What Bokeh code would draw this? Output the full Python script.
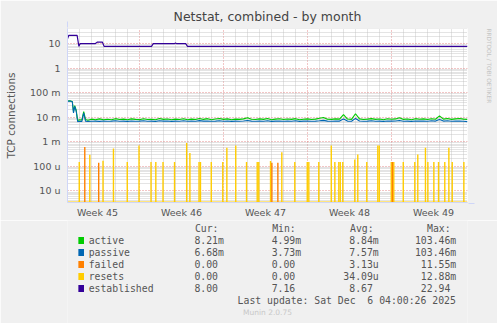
import numpy as np
from bokeh.plotting import figure
from bokeh.layouts import column
from bokeh.models import (Range1d, FixedTicker, CustomJSTickFormatter, Title,
                          Arrow, NormalHead)
from bokeh.core.properties import value
from bokeh.embed import file_html
from bokeh.resources import INLINE

# ---------------- data ----------------
# time axis in days from the left edge of the graph
WEEK_LABEL_DAYS = [2.5, 9.5, 16.5, 23.5, 30.5]
WEEK_LABELS = ["Week 45", "Week 46", "Week 47", "Week 48", "Week 49"]
WEEK_START_DAYS = [6, 13, 20, 27]
X_END = 33.333

Y_TICKS = [1e-5, 1e-4, 1e-3, 1e-2, 1e-1, 1, 10]
Y_LABELS = ["10 u", "100 u", "1 m", "10 m", "100 m", "1", "10"]

# active / passive (values in milli-connections)
START_DAYS = [0, 0.2, 0.4, 0.5, 0.6, 0.72, 0.85, 1.0, 1.2, 1.35, 1.5, 1.7]
ACTIVE_START = [46, 47, 44, 17, 30, 20, 7.4, 8.0, 7.8, 17, 8.2, 7.6]
PASSIVE_START = [45, 46, 43, 15, 28, 18, 6.6, 6.9, 6.8, 15, 7.0, 6.8]
REST_DAYS = list(2.0 + np.arange(95) / 3.0)
ACTIVE_REST = [
    8.4, 8.0, 8.6, 7.9, 8.3, 8.0, 8.8, 8.1, 8.4, 7.9,
    8.6, 8.2, 8.0, 8.7, 8.1, 8.3, 8.0, 8.9, 8.2, 8.5,
    7.9, 8.4, 8.1, 8.7, 8.0, 8.4, 8.1, 9.0, 8.2, 8.8,
    8.0, 8.5, 8.9, 8.2, 8.6, 8.0, 8.4, 8.2, 8.6, 9.5,
    8.3, 8.1, 8.6, 8.2, 8.9, 8.0, 8.4, 8.7, 8.1, 8.5,
    8.2, 8.8, 8.0, 8.3, 8.6, 8.1, 8.4, 9.1, 9.8, 8.3,
    8.2, 8.6, 8.4, 12.8, 8.5, 8.2, 14.0, 8.6, 8.1, 8.4,
    8.8, 8.2, 8.5, 8.0, 8.7, 8.3, 8.6, 9.6, 8.2, 8.5,
    8.0, 8.8, 8.3, 8.6, 8.1, 8.7, 8.3, 11.4, 8.4, 8.9,
    8.2, 8.6, 8.9, 8.4, 8.21]
PASSIVE_REST = [
    6.9, 7.0, 6.8, 7.1, 6.9, 7.0, 7.2, 6.9, 7.0, 6.8,
    7.1, 6.9, 7.0, 7.2, 6.9, 7.0, 6.8, 7.2, 7.0, 7.1,
    6.8, 7.0, 6.9, 7.2, 6.9, 7.0, 6.9, 7.3, 7.0, 7.1,
    6.9, 7.0, 7.2, 6.9, 7.1, 6.8, 7.0, 6.9, 7.1, 7.4,
    7.0, 6.9, 7.1, 6.9, 7.2, 6.8, 7.0, 7.1, 6.9, 7.0,
    6.9, 7.2, 6.8, 7.0, 7.1, 6.9, 7.0, 7.2, 7.5, 7.0,
    6.9, 7.1, 7.0, 8.5, 7.0, 6.9, 9.0, 7.1, 6.9, 7.0,
    7.2, 6.9, 7.0, 6.8, 7.1, 7.0, 7.1, 7.4, 6.9, 7.0,
    6.8, 7.1, 7.0, 7.1, 6.9, 7.2, 7.0, 8.2, 7.0, 7.2,
    6.9, 7.0, 7.1, 6.9, 6.68]

# established connections
EST_DAYS = [0, 0.1, 0.8, 0.95, 1.05, 2.3, 2.5, 2.9, 3.05, 7.0, 7.15, 8.9, 9.0, 9.1,
            9.85, 10.0, 33.333]
EST_VALUES = [16, 21.7, 21.7, 7.8, 10.0, 10.0, 11.7, 11.7, 7.8, 7.8, 10.0, 10.0, 10.6,
              10.0, 10.0, 7.8, 7.8]

# resets spikes (micro) and failed spikes (micro)
RESET_DAYS = [0.98, 1.86, 2.96, 3.83, 4.98, 5.96, 6.96, 7.36, 7.96, 8.92, 9.93, 10.2,
              10.96, 11.08, 11.98, 12.94, 13.28, 14.02, 14.92, 15.81, 15.94, 16.92,
              17.86, 18.94, 19.98, 20.11, 20.94, 21.98, 22.28, 22.61, 22.73, 22.94,
              23.94, 24.19, 24.94, 25.86, 25.98, 26.98, 27.19, 27.98, 28.94, 29.19,
              29.83, 30.03, 30.53, 30.92, 31.44, 31.78, 32.06, 33.03]
RESET_VALUES = [150, 300, 170, 530, 150, 700, 150, 150, 150, 150, 900, 350,
                150, 150, 150, 150, 570, 700, 150, 150, 150, 165,
                380, 150, 150, 150, 150, 700, 150, 150, 150, 150,
                190, 306, 150, 700, 700, 150, 150, 150, 150, 306,
                570, 150, 150, 150, 150, 570, 150, 150]
FAILED_DAYS = [1.44, 2.6, 17.03, 17.53, 27.08]
FAILED_VALUES = [620, 140, 140, 140, 150]

NB = "\u00a0"
NAMES = ["active", "passive", "failed", "resets", "established"]
COLORS = ["#00CC00", "#0066B3", "#FF8000", "#FFCC00", "#330099"]
CUR = ["8.21m", "6.68m", "0.00" + NB, "0.00" + NB, "8.00" + NB]
MIN = ["4.99m", "3.73m", "0.00" + NB, "0.00" + NB, "7.16" + NB]
AVG = ["8.84m", "7.57m", "3.13u", "34.09u", "8.67" + NB]
MAX = ["103.46m", "103.46m", "11.55m", "12.88m", "22.94" + NB]
HEADERS = ["Cur:", "Min:", "Avg:", "Max:"]
LAST_UPDATE = "Last update: Sat Dec " + NB + "6 04:00:26 2025"

# ---------------- figure ----------------
W, H_TOP, H_BOT = 497, 220, 103
Y_MIN, Y_MAX = 3.36e-6, 41.7
TXT = "#555555"
BG = "#F0F0F0"
AXC = "#CFD6F8"
SANS = "DejaVu Sans"
MONO = "DejaVu Sans Mono"

p = figure(width=W, height=H_TOP, y_axis_type="log", output_backend="svg",
           toolbar_location=None, x_range=Range1d(0, X_END),
           y_range=Range1d(Y_MIN, Y_MAX),
           min_border_left=67, min_border_right=30, min_border_top=28,
           min_border_bottom=17)
p.border_fill_color = BG
p.background_fill_color = "#FFFFFF"
p.outline_line_color = None

p.title.text = "Netstat, combined - by month"
p.title.align = "center"
p.title.offset = -18
p.title.text_font = SANS
p.title.text_font_size = "12.5px"
p.title.text_font_style = "normal"
p.title.text_color = "#444444"

# spacer panel then the vertical watermark on the right
p.add_layout(Title(text=NB, text_font=SANS, text_font_size="14px",
                   text_color=BG, standoff=0), "right")
p.add_layout(Title(text="RRDTOOL / TOBI OETIKER", align="left", text_font=SANS,
                   text_font_size="5.8px", text_font_style="normal",
                   text_color="#C4C4C4", standoff=0), "right")

# axes
p.xaxis.ticker = FixedTicker(ticks=WEEK_LABEL_DAYS)
p.xaxis.formatter = CustomJSTickFormatter(
    args=dict(wdays=WEEK_LABEL_DAYS, wlabels=WEEK_LABELS),
    code="let b=0;for(let i=0;i<wdays.length;i++){if(Math.abs(wdays[i]-tick)<Math.abs(wdays[b]-tick))b=i;}return wlabels[b];")
p.yaxis.ticker = FixedTicker(ticks=Y_TICKS)
p.yaxis.formatter = CustomJSTickFormatter(
    args=dict(tv=Y_TICKS, tl=Y_LABELS),
    code="let b=0;for(let i=0;i<tv.length;i++){if(Math.abs(Math.log10(tv[i]/tick))<Math.abs(Math.log10(tv[b]/tick)))b=i;}return tl[b];")
for ax in (p.xaxis[0], p.yaxis[0]):
    ax.major_tick_line_color = None
    ax.minor_tick_line_color = None
    ax.major_tick_out = 0
    ax.major_tick_in = 0
    ax.axis_line_color = AXC
    ax.major_label_text_font = SANS
    ax.major_label_text_font_size = "9.5px"
    ax.major_label_text_color = TXT
p.xaxis.major_label_standoff = 4
p.yaxis.major_label_standoff = 7
p.yaxis.axis_label = "TCP connections"
p.yaxis.axis_label_text_font = SANS
p.yaxis.axis_label_text_font_size = "10.5px"
p.yaxis.axis_label_text_font_style = "normal"
p.yaxis.axis_label_text_color = TXT
p.yaxis.axis_label_standoff = 10

# grids
minor_days = [d for d in range(0, 34) if d not in WEEK_START_DAYS]
p.xgrid.ticker = FixedTicker(ticks=WEEK_START_DAYS, minor_ticks=minor_days)
minor_y = [m * 10.0 ** e for e in range(-6, 2) for m in range(2, 10)]
p.ygrid.ticker = FixedTicker(ticks=Y_TICKS, minor_ticks=minor_y)
for g in (p.xgrid[0], p.ygrid[0]):
    g.grid_line_color = "#E07070"
    g.grid_line_alpha = 0.8
    g.grid_line_dash = "1 2"
    g.minor_grid_line_color = "#BBBBBB"
    g.minor_grid_line_alpha = 0.8
    g.minor_grid_line_dash = "1 1"

# data
act_days = START_DAYS + REST_DAYS
act_vals = [v / 1000 for v in ACTIVE_START + ACTIVE_REST]
pas_vals = [v / 1000 for v in PASSIVE_START + PASSIVE_REST]
p.line(act_days, act_vals, line_color=COLORS[0], line_width=1.1)
p.line(act_days, pas_vals, line_color=COLORS[1], line_width=1.1)
# zero-valued failed/resets lie at the bottom edge
p.line([0, X_END], [Y_MIN, Y_MIN], line_color=COLORS[3], line_width=2)
p.segment(x0=RESET_DAYS, y0=[1e-9] * len(RESET_DAYS), x1=RESET_DAYS,
          y1=[v * 1e-6 for v in RESET_VALUES], line_color=COLORS[3], line_width=1.4)
p.segment(x0=FAILED_DAYS, y0=[1e-9] * len(FAILED_DAYS), x1=FAILED_DAYS,
          y1=[v * 1e-6 for v in FAILED_VALUES], line_color=COLORS[2], line_width=1.4)
p.line(EST_DAYS, EST_VALUES, line_color=COLORS[4], line_width=1.2)

# arrows at axis ends (canvas coordinates, y measured from top)
p.add_layout(Arrow(end=NormalHead(size=6, fill_color=AXC, line_color=AXC),
                   x_start=67, y_start=32, x_end=67, y_end=21,
                   start_units="canvas", end_units="canvas",
                   line_color=AXC, line_width=1))
p.add_layout(Arrow(end=NormalHead(size=6, fill_color=AXC, line_color=AXC),
                   x_start=462, y_start=203, x_end=474, y_end=203,
                   start_units="canvas", end_units="canvas",
                   line_color=AXC, line_width=1))

# ---------------- legend / statistics panel ----------------
q = figure(width=W, height=H_BOT, output_backend="svg", toolbar_location=None,
           x_range=Range1d(0, W), y_range=Range1d(H_TOP + H_BOT, H_TOP),
           x_axis_location=None, y_axis_location=None,
           min_border=0, min_border_left=0, min_border_right=0,
           min_border_top=0, min_border_bottom=0)
q.border_fill_color = BG
q.background_fill_color = BG
q.outline_line_color = None
q.grid.visible = False

HEAD_X = [158.3, 254.3, 351, 446.7]
COL_RIGHT = [194.3, 290.3, 386.7, 483]
ROW0, DY = 228, 12
rows = [ROW0 + DY * (i + 1) for i in range(len(NAMES))]

q.text(x=HEAD_X, y=[ROW0] * 4, text=HEADERS, text_font=value(MONO),
       text_font_size="9.8px", text_color=TXT, text_baseline="middle")
q.rect(x=[17] * len(NAMES), y=rows, width=7, height=7, fill_color=COLORS,
       line_color=None)
q.text(x=[26.3] * len(NAMES), y=rows, text=NAMES, text_font=value(MONO),
       text_font_size="9.8px", text_color=TXT, text_baseline="middle")
for cx, vals in zip(COL_RIGHT, (CUR, MIN, AVG, MAX)):
    q.text(x=[cx] * len(vals), y=rows, text=vals, text_font=value(MONO),
           text_font_size="9.8px", text_color=TXT, text_baseline="middle",
           text_align="right")
q.text(x=[482.5], y=[300], text=[LAST_UPDATE], text_font=value(MONO),
       text_font_size="9.8px", text_color=TXT, text_baseline="middle",
       text_align="right")
q.text(x=[248.5], y=[312], text=["Munin 2.0.75"], text_font=value(SANS),
       text_font_size="7.5px", text_color="#C8C8C8", text_baseline="middle",
       text_align="center")

layout = column(p, q, spacing=0)
open("out.html", "w").write(file_html(layout, INLINE))
